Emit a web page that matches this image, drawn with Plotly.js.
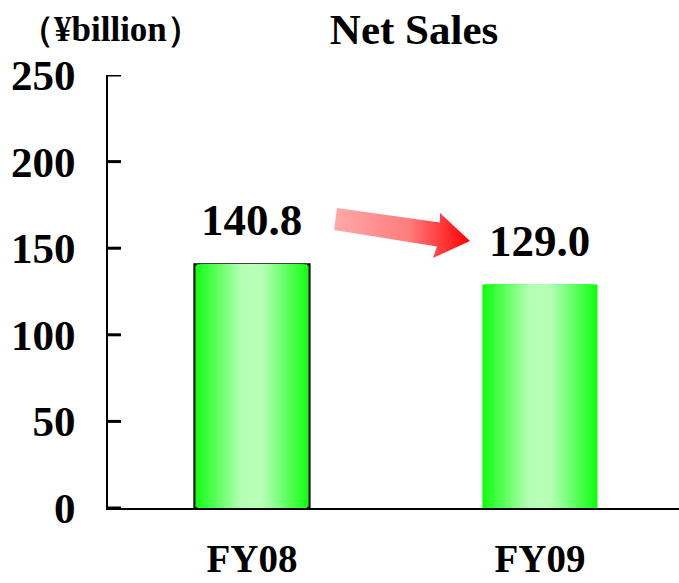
<!DOCTYPE html>
<html>
<head>
<meta charset="utf-8">
<script src="https://cdn.plot.ly/plotly-3.0.1.min.js"></script>
<style>html,body{margin:0;padding:0;background:#fff;}#chart{width:679px;height:583px;}</style>
</head>
<body>
<div id="chart"></div>
<script>
// ---- data ----
const categories = ['FY08', 'FY09'];
const netSales = [140.8, 129.0];
const yTicks = [0, 50, 100, 150, 200, 250];
const chartTitle = 'Net Sales';
const unitLabel = '（¥billion）';

// ---- style ----
const FONT = 'Liberation Serif, Times New Roman, serif';
const barWidth = 0.4;
const outlineWidths = [2, 0];
const edgeRGB = [18, 255, 18];
const centerRGB = [182, 255, 182];
const LAYERS = 22;

function mix(a, b, t) {
  return 'rgb(' + a.map((v, i) => Math.round(v + (b[i] - v) * t)).join(',') + ')';
}

const traces = [];
for (let k = 0; k < LAYERS; k++) {
  const frac = k / LAYERS;               // 0 = outer edge, ->1 = centre
  const w = barWidth * (1 - frac);
  const t = Math.min(1, frac / 0.8);
  traces.push({
    type: 'bar',
    x: categories,
    y: netSales,
    width: categories.map(() => w),
    marker: {
      color: mix(edgeRGB, centerRGB, t),
      line: k === 0 ? {color: '#000', width: outlineWidths} : {width: 0}
    },
    hoverinfo: 'skip',
    showlegend: false
  });
}

// decorative gradient arrow as an SVG image (paper coordinates)
const arrowSvg =
  "<svg xmlns='http://www.w3.org/2000/svg' width='136' height='50' viewBox='0 0 136 50'>" +
  "<defs><linearGradient id='g' x1='0' y1='0' x2='1' y2='0'>" +
  "<stop offset='0' stop-color='#ffa8a8'/><stop offset='0.55' stop-color='#ff7d7d'/>" +
  "<stop offset='1' stop-color='#ff0000'/></linearGradient></defs>" +
  "<polygon points='3,0 106,14.5 106,5 136,33 99,50 103,38.5 0,22' fill='url(#g)'/></svg>";

const annotations = categories.map((c, i) => ({
  x: c, y: netSales[i], xref: 'x', yref: 'y',
  text: netSales[i].toFixed(1),
  showarrow: false, yanchor: 'bottom', yshift: 17,
  font: {family: FONT, size: 45, color: '#000', weight: 'bold'}
}));
annotations.push({
  xref: 'paper', yref: 'paper', x: 0.005, y: 1.104,
  xanchor: 'center', yanchor: 'middle',
  text: unitLabel, showarrow: false,
  font: {family: FONT, size: 35, color: '#000', weight: 'bold'}
});

// y tick marks drawn inward from the axis
const shapes = yTicks.map(v => ({
  type: 'line', xref: 'paper', yref: 'y', layer: 'above',
  x0: 0, x1: 13 / 571, y0: v, y1: v,
  line: {color: '#000', width: 3}
}));

const layout = {
  width: 679, height: 583,
  margin: {l: 108, r: 0, t: 75, b: 75, pad: 0},
  barmode: 'overlay',
  showlegend: false,
  title: {
    text: chartTitle, xref: 'paper', x: 0.536, xanchor: 'center',
    yref: 'container', y: 0.95, yanchor: 'middle',
    font: {family: FONT, size: 43, color: '#000', weight: 'bold'}
  },
  xaxis: {
    type: 'category', range: [-0.5, 1.483],
    showline: true, linecolor: '#000', linewidth: 2,
    ticks: 'outside', ticklen: 15, tickcolor: 'rgba(0,0,0,0)',
    showgrid: false, zeroline: false,
    tickfont: {family: FONT, size: 39, color: '#000', weight: 'bold'}
  },
  yaxis: {
    range: [0, 250], tickvals: yTicks,
    showline: true, linecolor: '#000', linewidth: 2,
    ticks: 'outside', ticklen: 22, tickcolor: 'rgba(0,0,0,0)',
    showgrid: false, zeroline: false,
    tickfont: {family: FONT, size: 43, color: '#000', weight: 'bold'}
  },
  images: [{
    source: 'data:image/svg+xml;charset=utf-8,' + encodeURIComponent(arrowSvg),
    xref: 'paper', yref: 'paper',
    x: (334 - 108) / 571, y: (508 - 208) / 433,
    sizex: 136 / 571, sizey: 50 / 433,
    xanchor: 'left', yanchor: 'top', sizing: 'stretch', layer: 'above'
  }],
  shapes: shapes,
  annotations: annotations
};

Plotly.newPlot('chart', traces, layout, {staticPlot: true, displayModeBar: false});
</script>
</body>
</html>
